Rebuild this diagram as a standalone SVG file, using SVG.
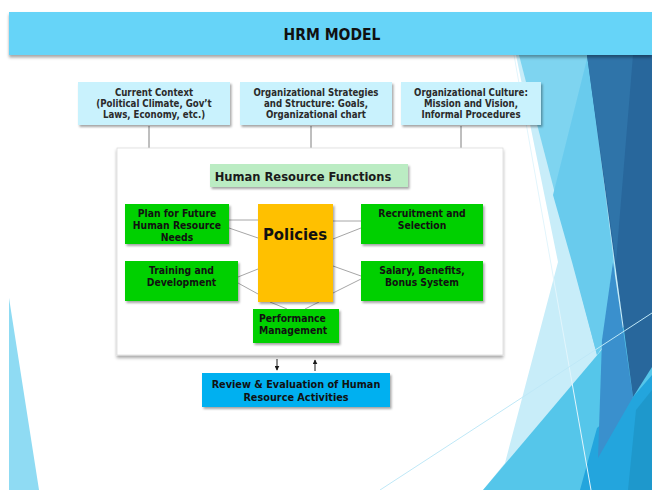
<svg xmlns="http://www.w3.org/2000/svg" width="652" height="490" viewBox="0 0 652 490">
<defs>
<filter id="sh" x="-10%" y="-10%" width="125%" height="140%">
<feDropShadow dx="1.5" dy="2" stdDeviation="1" flood-color="#000" flood-opacity="0.35"/>
</filter>
<filter id="shb" x="-5%" y="-20%" width="110%" height="160%">
<feDropShadow dx="0" dy="2.5" stdDeviation="1.5" flood-color="#000" flood-opacity="0.35"/>
</filter>
<marker id="ah" viewBox="0 0 8 8" refX="7" refY="4" markerWidth="5" markerHeight="5" orient="auto">
<path d="M0,0 L8,4 L0,8 z" fill="#1a1a1a"/>
</marker>
<style>
text{font-family:"DejaVu Sans Condensed","DejaVu Sans",sans-serif;font-stretch:condensed;font-weight:bold;text-anchor:middle}
.ctx{font-size:9.6px;fill:#2b2b2b}
.fn{font-size:10.3px;fill:#111}
.ctxbox{fill:#c9f2fd}
.green{fill:#00d000}
.conn{stroke:#a6a6a6;stroke-width:1;fill:none}
.vline{stroke:#7f7f7f;stroke-width:1;fill:none}
</style>
</defs>
<rect width="652" height="490" fill="#fff"/>
<g id="background">
<polygon points="9,298 9,490 39,490" fill="#8fdbf3"/>
<polygon points="516,55 652,55 652,490 483,490 505,463 558,262" fill="#c8edf9"/>
<polygon points="519,55 588,55 615,270 610,337 597,355" fill="#7ed4f0"/>
<polygon points="588,55 613,258 603,345 597,355 572,262 553,195" fill="#69cbed"/>
<polygon points="483,490 610,340 652,300 652,490" fill="#55c6ea"/>
<polygon points="580,490 597,428 633,397 652,375 652,490" fill="#23a5dd"/>
<polygon points="628,490 636,410 652,390 652,490" fill="#1e98cc"/>
<polygon points="613,262 633,397 598,458 602,340" fill="#3a90cd"/>
<polygon points="587,55 652,55 652,367 633,397" fill="#28679c"/>
<polygon points="587,55 633,55 616,262" fill="#2f74a9"/>
<line x1="514" y1="55" x2="591" y2="490" stroke="#e2f5fc" stroke-width="1"/>
<line x1="380" y1="490" x2="652" y2="313" stroke="#bfe8f7" stroke-width="1"/>
</g>
<g id="title" filter="url(#shb)">
<rect x="9" y="12" width="643" height="43" fill="#66d4f8"/>
</g>
<text x="332" y="39.5" style="font-size:15.5px;fill:#111">HRM MODEL</text>
<g id="connectors">
<line class="vline" x1="149" y1="126" x2="149" y2="148"/>
<line class="vline" x1="311" y1="126" x2="311" y2="148"/>
<line class="vline" x1="461" y1="126" x2="461" y2="148"/>
</g>
<g id="context-current" filter="url(#sh)">
<rect class="ctxbox" x="78" y="82" width="152" height="43"/>
</g>
<text class="ctx" x="154" y="95.5">Current Context</text>
<text class="ctx" x="154" y="106.5">(Political Climate, Gov’t</text>
<text class="ctx" x="154" y="117.5">Laws, Economy, etc.)</text>
<g id="context-strategy" filter="url(#sh)">
<rect class="ctxbox" x="240" y="82" width="152" height="43"/>
</g>
<text class="ctx" x="316" y="95.5">Organizational Strategies</text>
<text class="ctx" x="316" y="106.5">and Structure: Goals,</text>
<text class="ctx" x="316" y="117.5">Organizational chart</text>
<g id="context-culture" filter="url(#sh)">
<rect class="ctxbox" x="401" y="82" width="140" height="43"/>
</g>
<text class="ctx" x="471" y="95.5">Organizational Culture:</text>
<text class="ctx" x="471" y="106.5">Mission and Vision,</text>
<text class="ctx" x="471" y="117.5">Informal Procedures</text>
<g id="panel" filter="url(#shb)">
<rect x="117" y="148" width="386" height="207" fill="#fff" stroke="#dcdcdc" stroke-width="0.8"/>
</g>
<g id="functions-connectors">
<line class="conn" x1="229" y1="220" x2="258" y2="220"/>
<line class="conn" x1="229" y1="228" x2="258" y2="238"/>
<line class="conn" x1="238" y1="277" x2="258" y2="269"/>
<line class="conn" x1="238" y1="283" x2="258" y2="294"/>
<line class="conn" x1="333" y1="221" x2="361" y2="221"/>
<line class="conn" x1="333" y1="239" x2="361" y2="228"/>
<line class="conn" x1="333" y1="266" x2="361" y2="276"/>
<line class="conn" x1="333" y1="293" x2="361" y2="279"/>
<line class="conn" x1="270" y1="302" x2="287" y2="309"/>
<line class="conn" x1="305" y1="309" x2="319" y2="302"/>
<line stroke="#1a1a1a" stroke-width="1" x1="277" y1="359" x2="277" y2="370" marker-end="url(#ah)"/>
<line stroke="#1a1a1a" stroke-width="1" x1="315" y1="371" x2="315" y2="360" marker-end="url(#ah)"/>
</g>
<g id="hr-functions" filter="url(#sh)">
<rect x="210" y="164" width="198" height="23" fill="#bbecc3"/>
</g>
<text x="303" y="180.5" style="font-size:12.8px;fill:#1a1a1a">Human Resource Functions</text>
<g id="plan" filter="url(#sh)">
<rect class="green" x="125" y="204" width="104" height="40"/>
</g>
<text class="fn" x="177" y="216.5">Plan for Future</text>
<text class="fn" x="177" y="228.5">Human Resource</text>
<text class="fn" x="177" y="240.5">Needs</text>
<g id="training" filter="url(#sh)">
<rect class="green" x="125" y="261" width="113" height="40"/>
</g>
<text class="fn" x="181.5" y="273.5">Training and</text>
<text class="fn" x="181.5" y="285.5">Development</text>
<g id="policies" filter="url(#sh)">
<rect x="258" y="204" width="75" height="98" fill="#ffc000"/>
</g>
<text x="295" y="239.5" style="font-size:16.5px;fill:#111">Policies</text>
<g id="recruitment" filter="url(#sh)">
<rect class="green" x="361" y="204" width="122" height="40"/>
</g>
<text class="fn" x="422" y="216.5">Recruitment and</text>
<text class="fn" x="422" y="228.5">Selection</text>
<g id="salary" filter="url(#sh)">
<rect class="green" x="361" y="261" width="122" height="40"/>
</g>
<text class="fn" x="422" y="273.5">Salary, Benefits,</text>
<text class="fn" x="422" y="285.5">Bonus System</text>
<g id="performance" filter="url(#sh)">
<rect class="green" x="253" y="309" width="86" height="34"/>
</g>
<text class="fn" x="259" y="321.5" style="text-anchor:start">Performance</text>
<text class="fn" x="259" y="333.5" style="text-anchor:start">Management</text>
<g id="review" filter="url(#sh)">
<rect x="202" y="373" width="188" height="34" fill="#00b0f0"/>
</g>
<text x="296" y="388" style="font-size:10.8px;fill:#111">Review &amp; Evaluation of Human</text>
<text x="296" y="401" style="font-size:10.8px;fill:#111">Resource Activities</text>
</svg>
